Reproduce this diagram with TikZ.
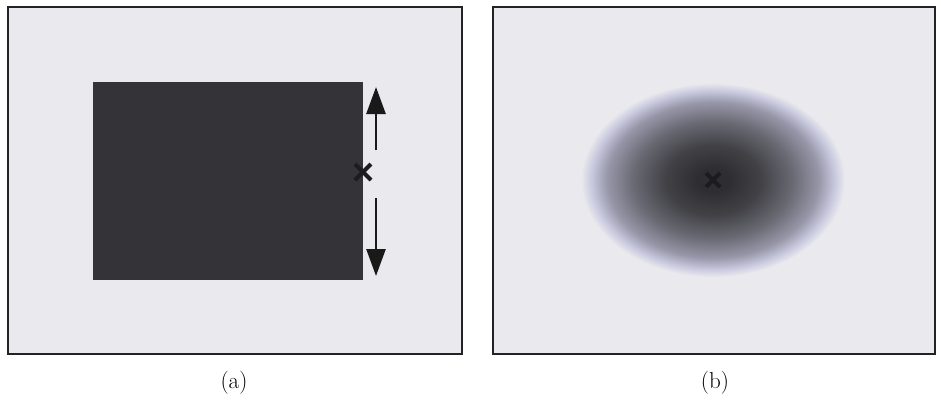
\documentclass[tikz,border=0pt]{standalone}
\usetikzlibrary{arrows.meta,calc}
\definecolor{bgc}{RGB}{233,233,238}
\definecolor{framec}{RGB}{35,35,38}
\definecolor{darkc}{RGB}{52,52,56}
\definecolor{crossc}{RGB}{28,28,32}
\definecolor{c0}{RGB}{45,45,50}
\definecolor{c1}{RGB}{65,65,70}
\definecolor{c2}{RGB}{105,105,115}
\definecolor{c3}{RGB}{150,150,168}
\definecolor{c4}{RGB}{200,200,222}
\pgfdeclareradialshading{blob}{\pgfpoint{0bp}{0bp}}{color(0bp)=(c0); color(3bp)=(c0); color(9bp)=(c1); color(15bp)=(c2); color(20bp)=(c3); color(23bp)=(c4); color(25bp)=(bgc); color(50bp)=(bgc)}
\tikzset{
  panel/.style={fill=bgc, draw=framec, line width=2pt},
  crossline/.style={draw=crossc, line width=4.2pt},
  movearrow/.style={draw=black!90, line width=2.6pt, -{Triangle[width=19pt,length=27pt]}},
  caption/.style={font=\fontsize{23}{26}\selectfont, inner sep=0pt}
}
\begin{document}
\begin{tikzpicture}[x=1pt,y=-1pt]
\useasboundingbox (0,0) rectangle (941,400);
% left panel
\draw[panel] (8,7) rectangle (462,354);
\fill[darkc] (93,82) rectangle (363,280);
\coordinate (xa) at (363,172);
\draw[crossline] ($(xa)+(-8,-8)$) -- ($(xa)+(8,8)$);
\draw[crossline] ($(xa)+(-8,8)$) -- ($(xa)+(8,-8)$);
\coordinate (upS) at (376,150);
\coordinate (upE) at (376,87);
\coordinate (dnS) at (376,198);
\coordinate (dnE) at (376,276);
\draw[movearrow] (upS) -- (upE);
\draw[movearrow] (dnS) -- (dnE);
% right panel
\draw[panel] (493,7) rectangle (935,354);
\shade[shading=blob] (713,180) ellipse [x radius=132, y radius=97];
\coordinate (xb) at (713,180);
\draw[crossline] ($(xb)+(-7,-7)$) -- ($(xb)+(7,7)$);
\draw[crossline] ($(xb)+(-7,7)$) -- ($(xb)+(7,-7)$);
% captions
\node[caption] (capa) at (234,383) {(a)};
\node[caption] (capb) at (715,383) {(b)};
\end{tikzpicture}
\end{document}
